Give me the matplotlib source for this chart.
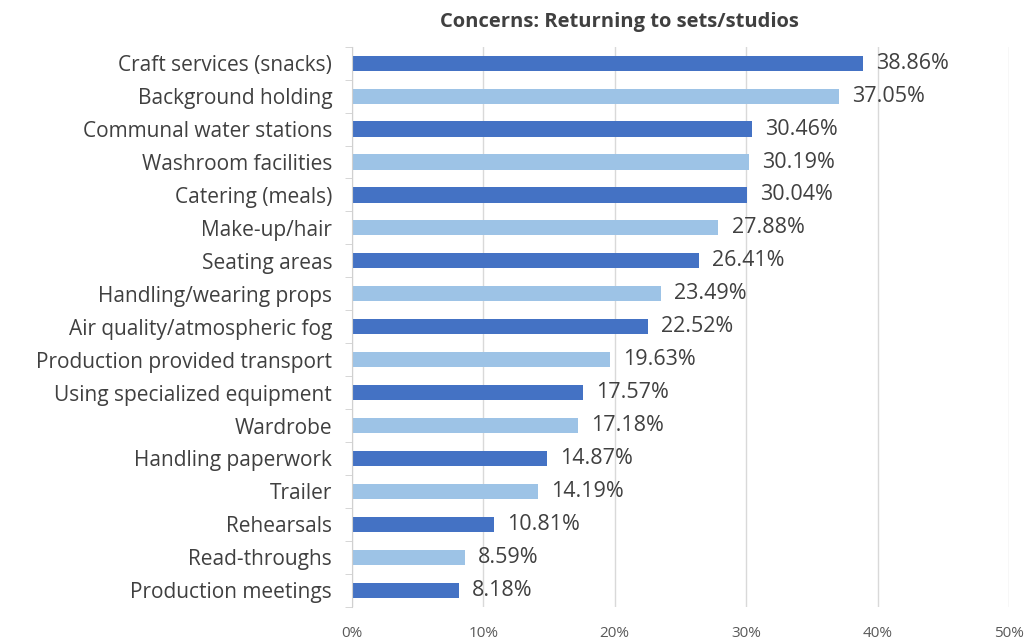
import numpy as np
import matplotlib.pyplot as plt

categories = ['Craft services (snacks)', 'Background holding', 'Communal water stations',
              'Washroom facilities', 'Catering (meals)', 'Make-up/hair', 'Seating areas',
              'Handling/wearing props', 'Air quality/atmospheric fog', 'Production provided transport',
              'Using specialized equipment', 'Wardrobe', 'Handling paperwork', 'Trailer',
              'Rehearsals', 'Read-throughs', 'Production meetings']
values = [38.86, 37.05, 30.46, 30.19, 30.04, 27.88, 26.41, 23.49, 22.52, 19.63,
          17.57, 17.18, 14.87, 14.19, 10.81, 8.59, 8.18]
xticks = [0, 10, 20, 30, 40, 50]

plt.rcParams['font.family'] = ['Open Sans', 'DejaVu Sans']
dark = '#4472C4'
light = '#9DC3E6'
txt = '#404040'

fig = plt.figure(figsize=(10.28, 6.4), dpi=100)
ax = fig.add_axes([0.342, 0.052, 0.640, 0.875])

y = np.arange(len(categories))
colors = [dark if i % 2 == 0 else light for i in range(len(categories))]
ax.barh(y, values, height=0.46, color=colors, zorder=2)
for yi, v in zip(y, values):
    ax.text(v + 1.0, yi, f'{v:.2f}%', va='center', ha='left', fontsize=15.5, color=txt)

ax.set_ylim(len(categories) - 0.5, -0.5)
ax.set_xlim(0, 50)
ax.set_yticks(y)
ax.set_yticklabels(categories, fontsize=15, color=txt)
ax.set_xticks(xticks)
ax.set_xticklabels([f'{t}%' for t in xticks], fontsize=11, color='#595959')
ax.tick_params(axis='y', length=0, pad=14)
ax.tick_params(axis='x', length=0, pad=14)
ax.set_yticks(np.arange(len(categories) + 1) - 0.5, minor=True)
ax.tick_params(axis='y', which='minor', length=5, color='#d0d0d0')
ax.grid(axis='x', color='#d9d9d9', linewidth=1, zorder=0)
for s in ['top', 'right', 'bottom']:
    ax.spines[s].set_visible(False)
ax.spines['left'].set_color('#d0d0d0')

fig.text(0.603, 0.965, 'Concerns: Returning to sets/studios', ha='center', va='center',
         fontsize=14.5, fontweight='bold', color=txt)

fig.savefig('out.png', dpi=100)
